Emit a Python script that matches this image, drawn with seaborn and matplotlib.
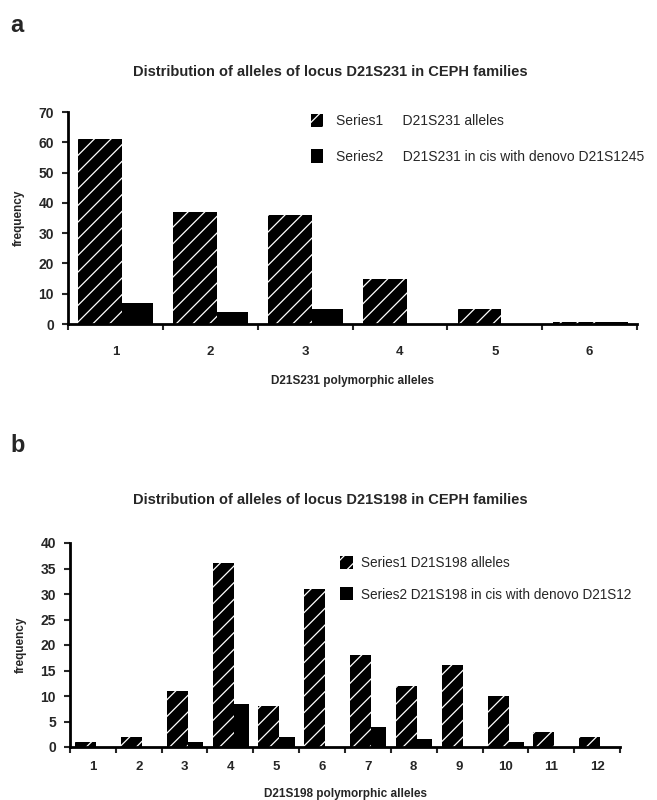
import numpy as np
import pandas as pd
import seaborn as sns
import matplotlib.pyplot as plt
from matplotlib.patches import Patch

# 数据：图 a (D21S231)
alleles_a = ['1', '2', '3', '4', '5', '6']
series1_a = [61, 37, 36, 15, 5, 0.5]
series2_a = [7, 4, 5, 0, 0, 0.5]

# 数据：图 b (D21S198)
alleles_b = ['1', '2', '3', '4', '5', '6', '7', '8', '9', '10', '11', '12']
series1_b = [1, 2, 11, 36, 8, 31, 18, 12, 16, 10, 3, 2]
series2_b = [0, 0, 1, 8.5, 2, 0, 4, 1.5, 0, 1, 0, 0]

sns.set_style('white')
plt.rcParams['font.family'] = ['Liberation Sans', 'DejaVu Sans']
plt.rcParams['hatch.linewidth'] = 0.9

fig = plt.figure(figsize=(6.57, 8.0), dpi=100)


def draw_panel(ax, alleles, s1, s2, ymax, ystep, xlabel, xpad, xlabelpad):
    n = len(alleles)
    df = pd.DataFrame({'allele': alleles * 2,
                       'freq': s1 + s2,
                       'series': ['Series1'] * n + ['Series2'] * n})
    sns.barplot(data=df, x='allele', y='freq', hue='series',
                palette=['black', 'black'], width=0.8, legend=False,
                saturation=1, ax=ax)

    # Series1 带白色斜线纹理，Series2 纯黑
    for i, bar in enumerate(ax.containers[0]):
        bar.set_x(i - 0.39)
        bar.set_width(0.46)
        bar.set_hatch('//')
        bar.set_edgecolor('white')
        bar.set_linewidth(0)
    for i, bar in enumerate(ax.containers[1]):
        bar.set_x(i + 0.07)
        bar.set_width(0.33)
        bar.set_edgecolor('black')
        bar.set_linewidth(0)

    ax.set_xlim(-0.5, n - 0.5)
    ax.set_ylim(0, ymax)
    ax.set_yticks(np.arange(0, ymax + 1, ystep))
    ax.set_xticks(np.arange(n + 1) - 0.5, labels=[''] * (n + 1))
    ax.set_xticks(np.arange(n), labels=alleles, minor=True)
    ax.tick_params(axis='x', which='major', direction='out', length=4, width=1.5, bottom=True)
    ax.tick_params(axis='x', which='minor', length=0, pad=xpad, labelsize=9.5)
    ax.tick_params(axis='y', direction='out', length=4, width=1.5, left=True, labelsize=10, pad=6)
    for lab in ax.get_xticklabels(minor=True) + ax.get_yticklabels():
        lab.set_fontweight('bold')

    sns.despine(ax=ax)
    ax.spines['left'].set_linewidth(2)
    ax.spines['bottom'].set_linewidth(2)
    ax.spines['left'].set_color('black')
    ax.spines['bottom'].set_color('black')
    ax.grid(False)

    ax.set_xlabel(xlabel, fontsize=8.5, fontweight='bold', labelpad=xlabelpad)
    ax.set_ylabel('frequency', fontsize=8.5, fontweight='bold', labelpad=10)


hatch_patch = Patch(facecolor='black', edgecolor='white', hatch='//', linewidth=0)
solid_patch = Patch(facecolor='black', edgecolor='black', linewidth=0)

# 图 a
ax1 = fig.add_axes([68 / 657, 1 - 324 / 800, 569 / 657, 212 / 800])
draw_panel(ax1, alleles_a, series1_a, series2_a, 70, 10, 'D21S231 polymorphic alleles', 16, 12)
fig.text(10 / 657, 1 - 25 / 800, 'a', fontsize=17, fontweight='bold', va='center')
fig.text(330 / 657, 1 - 72 / 800, 'Distribution of alleles of locus D21S231 in CEPH families',
         fontsize=10.5, fontweight='bold', ha='center', va='center')
fig.legend(handles=[hatch_patch, solid_patch],
           labels=['Series1     D21S231 alleles', 'Series2     D21S231 in cis with denovo D21S1245'],
           loc='upper left', bbox_to_anchor=(298 / 657, 1 - 101 / 800), frameon=False,
           handlelength=0.9, handleheight=1.1, handletextpad=0.9, labelspacing=1.55, fontsize=10)

# 图 b
ax2 = fig.add_axes([70 / 657, 1 - 747 / 800, 550 / 657, 204 / 800])
draw_panel(ax2, alleles_b, series1_b, series2_b, 40, 5, 'D21S198 polymorphic alleles', 10, 11)
fig.text(10 / 657, 1 - 445 / 800, 'b', fontsize=17, fontweight='bold', va='center')
fig.text(330 / 657, 1 - 500 / 800, 'Distribution of alleles of locus D21S198 in CEPH families',
         fontsize=10.5, fontweight='bold', ha='center', va='center')
fig.legend(handles=[hatch_patch, solid_patch],
           labels=['Series1 D21S198 alleles', 'Series2 D21S198 in cis with denovo D21S12'],
           loc='upper left', bbox_to_anchor=(328 / 657, 1 - 544 / 800), frameon=False,
           handlelength=0.9, handleheight=1.1, handletextpad=0.6, labelspacing=1.25, fontsize=9.8)

plt.savefig('out.png', dpi=100)
plt.close()
